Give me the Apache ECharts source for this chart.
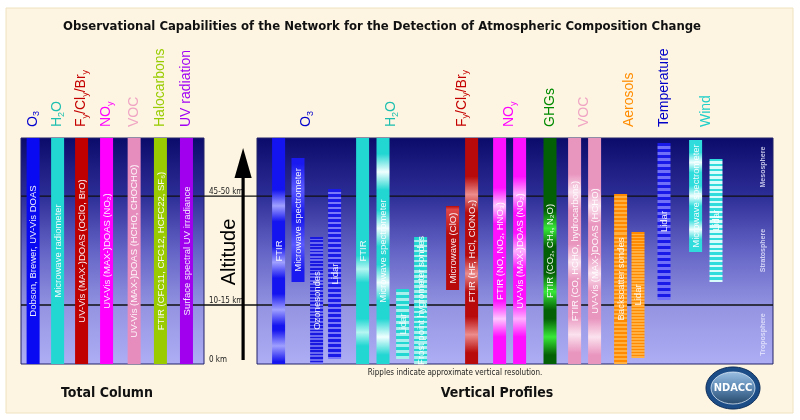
<!DOCTYPE html>
<html>
<head>
<meta charset="UTF-8">
<title>NDACC observational capabilities</title>
<script src="https://cdn.jsdelivr.net/npm/echarts@6/dist/echarts.min.js"></script>
<style>
    body { margin: 0; padding: 0; background: #fff; overflow: hidden; }
    #chart { width: 800px; height: 420px; }
</style>
</head>
<body>
<div id="chart"></div>
<script>
// altitude uses a schematic 0-100 scale (ground = 0, top of panel = 100)
const levelValues = [0, 26.1, 74.3];
const levelLabels = ['0 km', '10-15 km', '45-50 km'];
const layerNames = ['Troposphere', 'Stratosphere', 'Mesosphere'];

// total column instruments (all span the whole column)
const columnHeads = ['O{s|3}', 'H{s|2}O', 'F{s|y}/Cl{s|y}/Br{s|y}', 'NO{s|y}', 'VOC', 'Halocarbons', 'UV radiation'];
const columnNames = ['Dobson, Brewer, UV-Vis DOAS', 'Microwave radiometer', 'UV-Vis (MAX-)DOAS (OClO, BrO)',
    'UV-Vis (MAX-)DOAS (NO₂)', 'UV-Vis (MAX-)DOAS (HCHO, CHOCHO)', 'FTIR (CFC11, CFC12, HCFC22, SF₆)',
    'Surface spectral UV irradiance'];
const columnSlot = [0.47, 1.42, 2.35, 3.32, 4.39, 5.41, 6.42];

// vertical profile instruments
const profileGroups = ['O{s|3}', 'H{s|2}O', 'F{s|y}/Cl{s|y}/Br{s|y}', 'NO{s|y}', 'GHGs', 'VOC', 'Aerosols', 'Temperature', 'Wind'];
const profileNames = ['FTIR', 'Microwave spectrometer', 'Ozonesondes', 'Lidar',
    'FTIR', 'Microwave spectrometer', 'Lidar', 'Frost point hygrometer sondes',
    'Microwave (ClO)', 'FTIR (HF, HCl, ClONO₂)',
    'FTIR (NO, NO₂, HNO₃)', 'UV-Vis (MAX-)DOAS (NO₂)',
    'FTIR (CO₂, CH₄, N₂O)',
    'FTIR (CO, HCHO, hydrocarbons)', 'UV-Vis (MAX-)DOAS (HCHO)',
    'Backscatter sondes', 'Lidar',
    'Lidar',
    'Microwave spectrometer', 'Lidar'];
const profileGroup = [0, 0, 0, 0, 1, 1, 1, 1, 2, 2, 3, 3, 4, 5, 5, 6, 6, 7, 8, 8];
const profileSlot = [1.08, 2.05, 2.98, 3.88, 5.28, 6.3, 7.28, 8.18, 9.78, 10.73, 12.13, 13.13, 14.65, 15.88, 16.88, 18.18, 19.05, 20.35, 21.93, 22.95];
const profileBottom = [0, 36.3, 0, 2.2, 0, 0, 2.2, 0, 32.7, 0, 0, 0, 0, 0, 0, 0, 2.7, 28.3, 49.6, 36.3];
const profileTop = [100, 91.2, 56.2, 77.4, 100, 100, 33.2, 56.2, 69.9, 100, 100, 100, 100, 100, 100, 75.2, 58.4, 97.8, 99.1, 90.7];

// ---- styles ----
const PANEL_TOP = 138, PANEL_H = 226;
const LEFT_X = 21, LEFT_W = 183, RIGHT_X = 257, RIGHT_W = 516;
const BAR_W = 13;
const FONT = '"Liberation Sans", Arial, sans-serif';
const COND = '"DejaVu Sans Condensed", "DejaVu Sans", sans-serif';

const columnColor = ['#0a0af2', '#22d6d2', '#c00000', '#ff00ff', '#e78dbd', '#9acb00', '#a100ef'];
const columnHeadColor = ['#0000d0', '#1dbfb0', '#c40000', '#ff00ff', '#f0a4c4', '#99cc00', '#a100f5'];
const groupHeadColor = ['#0000cc', '#1dbfb0', '#c40000', '#ff00ff', '#008a00', '#f0a4c4', '#ff8c00', '#0000c8', '#20cfc8'];

const profileStyle = [
    {kind: 'wave', base: '#1414f0', light: '#a0a0ff', bands: [0.3, 0.55, 0.76, 0.92], w: 0.07},
    {kind: 'wave', base: '#1a1af0', light: '#5a5aff', bands: [0.25, 0.7], w: 0.2},
    {kind: 'stripe', base: '#1818e0', light: '#6a6af0', period: 3.4},
    {kind: 'stripe', base: '#1a1ae8', light: '#7a7af8', period: 5},
    {kind: 'wave', base: '#22d6d2', light: '#b4f6f2', bands: [0.58, 0.86], w: 0.06},
    {kind: 'wave', base: '#22d6d2', light: '#f0ffff', bands: [0.15, 0.4, 0.64, 0.88], w: 0.08},
    {kind: 'stripe', base: '#22d6d2', light: '#a8f0ee', period: 6},
    {kind: 'stripe', base: '#22d6d2', light: '#a8f0ee', period: 5},
    {kind: 'wave', base: '#b80a0a', light: '#e04848', bands: [0.04], w: 0.3},
    {kind: 'wave', base: '#b80a0a', light: '#ec8c8c', bands: [0.25, 0.6, 0.87], w: 0.08},
    {kind: 'wave', base: '#ff10ff', light: '#ffc8ff', bands: [0.3, 0.8], w: 0.08},
    {kind: 'wave', base: '#ff10ff', light: '#ffb0ff', bands: [0.25, 0.5, 0.8], w: 0.08},
    {kind: 'wave', base: '#046004', light: '#38e838', bands: [0.4, 0.68, 0.88], w: 0.08},
    {kind: 'wave', base: '#e996bf', light: '#fbe2ee', bands: [0.24, 0.55, 0.87], w: 0.08},
    {kind: 'wave', base: '#e996bf', light: '#fbe2ee', bands: [0.3, 0.6, 0.88], w: 0.08},
    {kind: 'stripe', base: '#ff8a00', light: '#ffb040', period: 4},
    {kind: 'stripe', base: '#ff8a00', light: '#ffb040', period: 3},
    {kind: 'stripe', base: '#1a1ae8', light: '#7070f8', period: 6},
    {kind: 'wave', base: '#30dcdc', light: '#f0ffff', bands: [0.2, 0.5, 0.8], w: 0.09},
    {kind: 'stripe', base: '#30dcdc', light: '#d8fcfc', period: 5}
];

function barFill(st, h) {
    if (!st || st.kind === 'solid') return st ? st.base : '#888';
    const stops = [];
    if (st.kind === 'wave') {
        stops.push({offset: 0, color: st.base});
        st.bands.forEach(c => {
            stops.push({offset: Math.max(0, c - st.w), color: st.base});
            stops.push({offset: c, color: st.light});
            stops.push({offset: Math.min(1, c + st.w), color: st.base});
        });
        stops.push({offset: 1, color: st.base});
    } else {
        const n = Math.max(1, Math.round(h / st.period));
        for (let i = 0; i < n; i++) {
            const a = i / n, b = (i + 0.5) / n, c = (i + 1) / n;
            stops.push({offset: a, color: st.base}, {offset: b, color: st.base},
                {offset: b, color: st.light}, {offset: c, color: st.light});
        }
    }
    return new echarts.graphic.LinearGradient(0, 0, 0, 1, stops);
}

function makeBarRenderer(names, styleOf) {
    return function (params, api) {
        const x = api.value(0), lo = api.value(1), hi = api.value(2), i = api.value(3);
        const pb = api.coord([x, lo]), pt = api.coord([x, hi]);
        const h = pb[1] - pt[1];
        return {
            type: 'group',
            children: [{
                type: 'rect',
                shape: {x: pt[0] - BAR_W / 2, y: pt[1], width: BAR_W, height: h},
                style: {fill: barFill(styleOf(i), h)}
            }, {
                type: 'text',
                x: pt[0] + 0.5, y: pt[1] + h / 2,
                rotation: Math.PI / 2,
                style: {text: names[i], fill: 'rgba(255,255,255,0.93)', font: '9.5px ' + FONT, align: 'center', verticalAlign: 'middle'}
            }]
        };
    };
}

const headRich = {
    m: {fontSize: 14, lineHeight: 16, verticalAlign: 'top', fontFamily: FONT},
    s: {fontSize: 9, lineHeight: 9, padding: [6, 0, 0, 0], verticalAlign: 'top', fontFamily: FONT}
};
function richHead(t) {
    // wrap plain runs into the main style so they share one alignment
    return t.split(/(\{s\|[^}]*\})/).filter(Boolean)
        .map(p => p.startsWith('{s|') ? p : '{m|' + p + '}').join('');
}
function makeHeadRenderer(heads, colors) {
    return function (params, api) {
        const i = api.value(2);
        const p = api.coord([api.value(0), api.value(1)]);
        const rich = {
            m: Object.assign({}, headRich.m, {fill: colors[i]}),
            s: Object.assign({}, headRich.s, {fill: colors[i]})
        };
        return {
            type: 'text',
            x: p[0] + 1, y: p[1] - 11,
            rotation: Math.PI / 2,
            style: {text: richHead(heads[i]), rich: rich, fill: colors[i], align: 'left', verticalAlign: 'middle'}
        };
    };
}

// group centres for the profile headings
const groupCenters = profileGroups.map((g, gi) => {
    const s = profileSlot.filter((v, k) => profileGroup[k] === gi);
    return (Math.min(...s) + Math.max(...s)) / 2;
});

const layerRanges = layerNames.map((n, i) => [levelValues[i], i + 1 < levelValues.length ? levelValues[i + 1] : 100]);

function panelFill() {
    return new echarts.graphic.LinearGradient(0, 0, 0, 1, [
        {offset: 0, color: '#0b0b6b'},
        {offset: 0.25, color: '#2c2c96'},
        {offset: 0.5, color: '#6464c6'},
        {offset: 0.75, color: '#9494e2'},
        {offset: 1, color: '#aeaef5'}
    ]);
}

const ec = echarts.init(document.getElementById('chart'), null, {renderer: 'canvas'});

const option = {
    animation: false,
    backgroundColor: '#ffffff',
    grid: [
        {left: LEFT_X, top: PANEL_TOP, width: LEFT_W, height: PANEL_H},
        {left: RIGHT_X, top: PANEL_TOP, width: RIGHT_W, height: PANEL_H},
        {left: LEFT_X, top: PANEL_TOP, width: RIGHT_X + RIGHT_W - LEFT_X, height: PANEL_H}
    ],
    xAxis: [
        {gridIndex: 0, type: 'value', min: 0, max: 7.1, show: false},
        {gridIndex: 1, type: 'value', min: 0, max: 25.8, show: false},
        {gridIndex: 2, type: 'value', min: 0, max: 1, show: false}
    ],
    yAxis: [
        {gridIndex: 0, type: 'value', min: 0, max: 100, show: false},
        {
            gridIndex: 1, type: 'value', min: 0, max: 100,
            axisLine: {show: false}, axisTick: {show: false}, splitLine: {show: false},
            axisLabel: {
                customValues: levelValues,
                formatter: v => levelLabels[levelValues.indexOf(v)] || '',
                align: 'left', margin: 48, verticalAlign: 'bottom',
                fontSize: 8, fontFamily: COND, color: '#222'
            }
        },
        {gridIndex: 2, type: 'value', min: 0, max: 100, show: false}
    ],
    graphic: [
        {type: 'rect', z: -10, shape: {x: 6, y: 8, width: 787, height: 405}, style: {fill: '#fdf5e1', stroke: '#efe2c0', lineWidth: 1}},
        {type: 'rect', z: -5, shape: {x: LEFT_X, y: PANEL_TOP, width: LEFT_W, height: PANEL_H}, style: {fill: panelFill(), stroke: '#23236a', lineWidth: 1}},
        {type: 'rect', z: -5, shape: {x: RIGHT_X, y: PANEL_TOP, width: RIGHT_W, height: PANEL_H}, style: {fill: panelFill(), stroke: '#23236a', lineWidth: 1}},
        {type: 'text', z: 10, x: 382, y: 27, style: {text: 'Observational Capabilities of the Network for the Detection of Atmospheric Composition Change', font: 'bold 13px ' + COND, fill: '#111', align: 'center', verticalAlign: 'middle'}},
        {type: 'text', z: 10, x: 107, y: 393, style: {text: 'Total Column', font: 'bold 14px ' + COND, fill: '#111', align: 'center', verticalAlign: 'middle'}},
        {type: 'text', z: 10, x: 497, y: 393, style: {text: 'Vertical Profiles', font: 'bold 14px ' + COND, fill: '#111', align: 'center', verticalAlign: 'middle'}},
        {type: 'text', z: 10, x: 455, y: 373, style: {text: 'Ripples indicate approximate vertical resolution.', font: '8px ' + COND, fill: '#222', align: 'center', verticalAlign: 'middle'}},
        // altitude arrow
        {type: 'rect', z: 20, shape: {x: 241.5, y: 172, width: 3.2, height: 188}, style: {fill: '#000'}},
        {type: 'polygon', z: 20, shape: {points: [[243.1, 148], [234.5, 178], [251.7, 178]]}, style: {fill: '#000'}},
        {type: 'text', z: 20, x: 229, y: 252, rotation: Math.PI / 2, style: {text: 'Altitude', font: '20px ' + FONT, fill: '#000', align: 'center', verticalAlign: 'middle'}},
        // NDACC logo
        {type: 'ellipse', z: 10, shape: {cx: 733, cy: 388, rx: 27, ry: 21}, style: {fill: '#1d4d86', stroke: '#0d2d5a', lineWidth: 1}},
        {type: 'ellipse', z: 11, shape: {cx: 733, cy: 388, rx: 22, ry: 16}, style: {
            fill: new echarts.graphic.LinearGradient(0, 0, 0, 1, [
                {offset: 0, color: '#9cc0e2'}, {offset: 0.5, color: '#5a86b2'}, {offset: 1, color: '#27496a'}
            ]), stroke: '#d8e6f4', lineWidth: 0.8
        }},
        {type: 'text', z: 12, x: 733, y: 388, style: {text: 'NDACC', font: 'bold 11px ' + COND, fill: '#fff', align: 'center', verticalAlign: 'middle'}}
    ],
    series: [
        {
            // altitude boundary lines across both panels
            type: 'custom', xAxisIndex: 2, yAxisIndex: 2, z: 2,
            data: levelValues.filter(v => v > 0).map(v => [0, v]),
            renderItem: function (params, api) {
                const cs = params.coordSys;
                const y = api.coord([0, api.value(1)])[1];
                return {type: 'line', shape: {x1: cs.x, y1: y, x2: cs.x + cs.width, y2: y}, style: {stroke: '#111', lineWidth: 1.3}};
            }
        },
        {
            type: 'custom', xAxisIndex: 0, yAxisIndex: 0, z: 5,
            data: columnSlot.map((s, i) => [s, 0, 100, i]),
            renderItem: makeBarRenderer(columnNames, i => ({kind: 'solid', base: columnColor[i]}))
        },
        {
            type: 'custom', xAxisIndex: 1, yAxisIndex: 1, z: 5,
            data: profileSlot.map((s, i) => [s, profileBottom[i], profileTop[i], i]),
            renderItem: makeBarRenderer(profileNames, i => profileStyle[i])
        },
        {
            type: 'custom', xAxisIndex: 0, yAxisIndex: 0, z: 6,
            data: columnSlot.map((s, i) => [s, 100, i]),
            renderItem: makeHeadRenderer(columnHeads, columnHeadColor)
        },
        {
            type: 'custom', xAxisIndex: 1, yAxisIndex: 1, z: 6,
            data: groupCenters.map((c, i) => [c, 100, i]),
            renderItem: makeHeadRenderer(profileGroups, groupHeadColor)
        },
        {
            // atmospheric layer names along the right edge
            type: 'custom', xAxisIndex: 1, yAxisIndex: 1, z: 4,
            data: layerRanges.map((r, i) => [0, (r[0] + r[1]) / 2, i]),
            renderItem: function (params, api) {
                const cs = params.coordSys;
                const y = api.coord([0, api.value(1)])[1];
                return {
                    type: 'text', x: cs.x + cs.width - 10, y: y, rotation: Math.PI / 2,
                    style: {text: layerNames[api.value(2)], font: 'bold 7px ' + FONT, fill: 'rgba(235,235,255,0.8)', align: 'center', verticalAlign: 'middle'}
                };
            }
        }
    ]
};
ec.setOption(option);
</script>
</body>
</html>
